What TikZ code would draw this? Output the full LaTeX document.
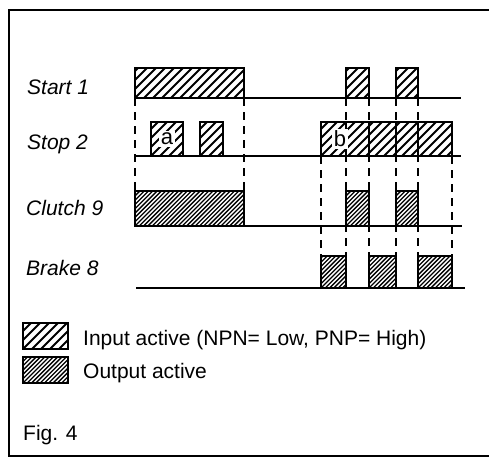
\documentclass[tikz,border=0pt]{standalone}
\usepackage{fontspec}
\setmainfont{Liberation Sans}
\tikzset{
  inp/.style={draw, line width=2.2pt, path picture={
      \foreach \i in {-6,...,17}
        \draw[line width=1.9pt] ([xshift=\i*9pt]path picture bounding box.south west) -- ++(60pt,60pt);}},
  outp/.style={draw, line width=2.2pt, path picture={
      \foreach \i in {-12,...,34}
        \draw[line width=1.3pt] ([xshift=\i*4.3pt]path picture bounding box.south west) -- ++(60pt,60pt);}},
  baseln/.style={line width=2.4pt},
  dsh/.style={line width=2.4pt, dash pattern=on 8pt off 6pt},
  lbl/.style={anchor=base west, font=\fontsize{21}{24}\selectfont\itshape, inner sep=0pt},
  txt/.style={anchor=base west, font=\fontsize{21}{24}\selectfont, inner sep=0pt},
  letter/.style={fill=white, font=\fontsize{22}{24}\selectfont, inner sep=1.5pt},
}
\begin{document}
\begin{tikzpicture}[x=1pt,y=-1pt]
\useasboundingbox (0,0) rectangle (489,460);
\fill[white] (0,0) rectangle (489,460);
% frame
\draw[line width=2.4pt] (489,10) -- (9,10) -- (9,456) -- (489,456);
% labels
\node[lbl] (start) at (27,94) {Start 1};
\node[lbl] (stop) at (27,149) {Stop 2};
\node[lbl] (clutch) at (26,215) {Clutch 9};
\node[lbl] (brake) at (26,275) {Brake 8};
% dashed verticals
\draw[dsh] (135,98) -- (135,191);
\draw[dsh] (244,98) -- (244,191);
\foreach \x in {346,369,396,418} \draw[dsh] (\x,98) -- (\x,256);
\foreach \x in {321,452} \draw[dsh] (\x,156) -- (\x,256);
% baselines
\draw[baseln] (135,98) -- (461,98);
\draw[baseln] (135,156) -- (461,156);
\draw[baseln] (135,226) -- (462,226);
\draw[baseln] (136,288) -- (465,288);
% Start 1 pulses
\draw[inp] (135,98) rectangle (244,68);
\draw[inp] (346,98) rectangle (369,68);
\draw[inp] (396,98) rectangle (418,68);
% Stop 2 pulses
\draw[inp] (151,156) rectangle (183,122);
\draw[inp] (200,156) rectangle (223,122);
\draw[inp] (321,156) rectangle (452,122);
\foreach \x in {346,369,396,418} \draw[line width=2pt] (\x,122) -- (\x,156);
\node[letter] (a) at (167,139) {a};
\node[letter] (b) at (340,139) {b};
% Clutch 9 pulses
\draw[outp] (135,226) rectangle (244,191);
\draw[outp] (346,226) rectangle (369,191);
\draw[outp] (396,226) rectangle (418,191);
% Brake 8 pulses
\draw[outp] (321,288) rectangle (346,256);
\draw[outp] (369,288) rectangle (396,256);
\draw[outp] (418,288) rectangle (452,256);
% legend
\draw[inp] (23,323) rectangle (68,349);
\draw[outp] (23,357) rectangle (68,383);
\node[txt] (inlbl) at (83,345) {Input active (NPN= Low, PNP= High)};
\node[txt] (outlbl) at (83,378) {Output active};
\node[txt] (fig) at (23,440) {Fig. 4};
\end{tikzpicture}
\end{document}
